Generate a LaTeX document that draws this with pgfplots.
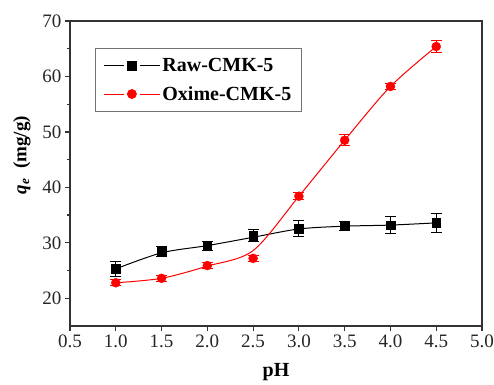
\documentclass[border=0pt]{standalone}
\usepackage{pgfplots}
\pgfplotsset{compat=1.18}
\usepackage{fontspec}
\setmainfont{Liberation Serif}
\begin{document}
\begin{tikzpicture}
\useasboundingbox (-70pt,-58pt) rectangle (424pt,326pt);
\begin{axis}[
  scale only axis,
  width=412pt, height=305pt,
  xmin=0.5, xmax=5.0, ymin=15, ymax=70,
  xtick={0.5,1.0,...,5.0},
  ytick={20,30,...,70},
  minor y tick num=1,
  xticklabel style={/pgf/number format/.cd,fixed,fixed zerofill,precision=1},
  /pgf/number format/assume math mode=true,
  tick align=outside,
  xtick pos=bottom, ytick pos=left,
  major tick length=5pt, minor tick length=3pt,
  axis line style={line width=1.4pt, black!80},
  every tick/.style={line width=1.2pt, black!80},
  tick label style={font=\fontsize{19}{19}\selectfont, black!85},
  xlabel={\textbf{pH}},
  ylabel={\textbf{\textit{q}\textsubscript{\textit{e}}\ \ (mg/g)}},
  xlabel style={font=\fontsize{20}{20}\selectfont, at={(axis description cs:0.5,0)}, anchor=center, yshift=-46pt},
  ylabel style={font=\fontsize{19}{19}\selectfont, at={(axis description cs:0,0.56)}, anchor=center, yshift=48pt},
  legend style={at={(axis cs:0.773,65.1)}, anchor=north west, draw=black!55, line width=0.8pt,
    font=\bfseries\fontsize{20}{20}\selectfont, row sep=9pt, inner xsep=8pt, inner ysep=8pt,
    text depth=0pt, nodes={inner sep=2pt}},
  legend cell align=left,
]
% fitted curves
\addplot[black, line width=1pt, smooth, tension=0.5, forget plot] coordinates {
(1.0,25.3) (1.5,28.2) (2.0,29.5) (2.5,31.0) (3.0,32.5) (3.5,33.0) (4.0,33.2) (4.5,33.6)};
\addplot[red, line width=1pt, smooth, tension=0.5, forget plot] coordinates {
(1.0,22.8) (1.5,23.6) (2.0,25.8) (2.5,28.6) (3.0,38.4) (3.5,48.5) (4.0,58.2) (4.5,65.4)};
% data points
\addplot[black, only marks, mark=square*, mark size=4.3pt, mark options={solid, fill=black},
  legend image code/.code={
    \draw[black, line width=1pt] (0pt,0pt) -- (20pt,0pt);
    \draw[black, line width=1pt] (36pt,0pt) -- (56pt,0pt);
    \fill[black] (23.7pt,-4.3pt) rectangle (32.3pt,4.3pt);},
  error bars/.cd, y dir=both, y explicit, error bar style={line width=1pt, black}, error mark options={rotate=90, mark size=5.5pt, line width=1pt}]
coordinates {
(1.0,25.3) +- (0,1.4)
(1.5,28.4) +- (0,0.9)
(2.0,29.4) +- (0,0.8)
(2.5,31.3) +- (0,1.1)
(3.0,32.6) +- (0,1.5)
(3.5,33.1) +- (0,0.8)
(4.0,33.2) +- (0,1.5)
(4.5,33.6) +- (0,1.7)
};
\addlegendentry{Raw-CMK-5}
\addplot[red, only marks, mark=*, mark size=4.5pt, mark options={solid, fill=red},
  legend image code/.code={
    \draw[red, line width=1pt] (0pt,0pt) -- (20pt,0pt);
    \draw[red, line width=1pt] (36pt,0pt) -- (56pt,0pt);
    \fill[red] (28pt,0pt) circle (4.5pt);},
  error bars/.cd, y dir=both, y explicit, error bar style={line width=1pt, red}, error mark options={rotate=90, mark size=5.5pt, line width=1pt}]
coordinates {
(1.0,22.8) +- (0,0.5)
(1.5,23.6) +- (0,0.5)
(2.0,25.9) +- (0,0.5)
(2.5,27.2) +- (0,0.5)
(3.0,38.4) +- (0,0.6)
(3.5,48.5) +- (0,1.0)
(4.0,58.2) +- (0,0.6)
(4.5,65.4) +- (0,1.0)
};
\addlegendentry{Oxime-CMK-5\hspace{22pt}}
\end{axis}
\end{tikzpicture}
\end{document}
